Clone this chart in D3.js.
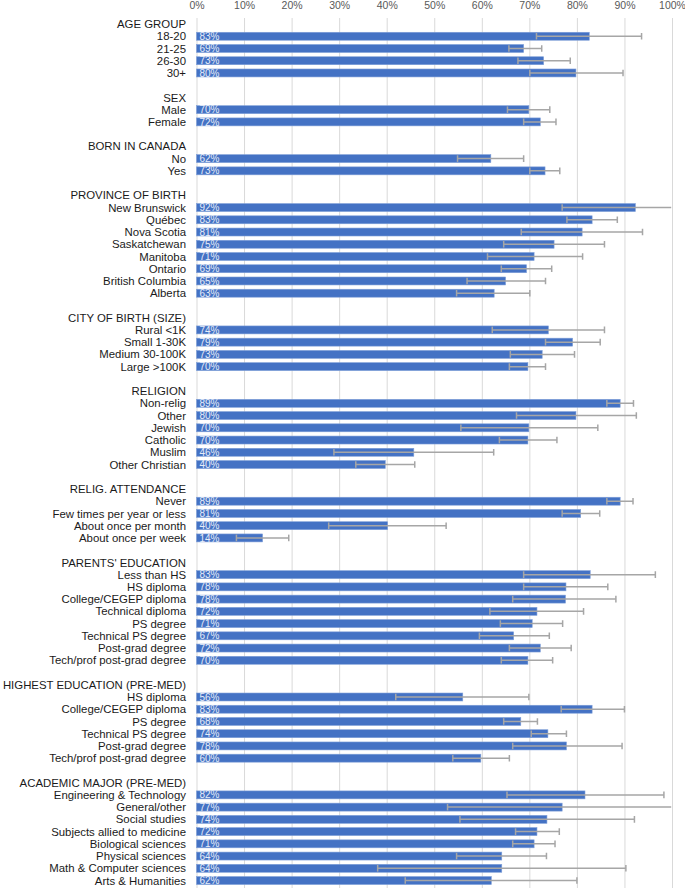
<!DOCTYPE html>
<html>
<head>
<meta charset="utf-8">
<script src="https://cdn.jsdelivr.net/npm/d3@7"></script>
<style>
  body { margin: 0; background: #fff; }
  svg { display: block; font-family: "Liberation Sans", Arial, sans-serif; }
</style>
</head>
<body>
<div id="chart"></div>
<script>
// Group headers, in display order
const groupNames = [
  "AGE GROUP", "SEX", "BORN IN CANADA", "PROVINCE OF BIRTH", "CITY OF BIRTH (SIZE)",
  "RELIGION", "RELIG. ATTENDANCE", "PARENTS' EDUCATION",
  "HIGHEST EDUCATION (PRE-MED)", "ACADEMIC MAJOR (PRE-MED)"
];

// Categories within each group
const categories = [
  ["18-20", "21-25", "26-30", "30+"],
  ["Male", "Female"],
  ["No", "Yes"],
  ["New Brunswick", "Québec", "Nova Scotia", "Saskatchewan", "Manitoba", "Ontario", "British Columbia", "Alberta"],
  ["Rural <1K", "Small 1-30K", "Medium 30-100K", "Large >100K"],
  ["Non-relig", "Other", "Jewish", "Catholic", "Muslim", "Other Christian"],
  ["Never", "Few times per year or less", "About once per month", "About once per week"],
  ["Less than HS", "HS diploma", "College/CEGEP diploma", "Technical diploma", "PS degree", "Technical PS degree", "Post-grad degree", "Tech/prof post-grad degree"],
  ["HS diploma", "College/CEGEP diploma", "PS degree", "Technical PS degree", "Post-grad degree", "Tech/prof post-grad degree"],
  ["Engineering & Technology", "General/other", "Social studies", "Subjects allied to medicine", "Biological sciences", "Physical sciences", "Math & Computer sciences", "Arts & Humanities"]
];

// Percentages (bar length)
const values = [
  [82.6, 68.8, 73.0, 79.8],
  [69.9, 72.3],
  [61.9, 73.3],
  [92.3, 83.2, 81.1, 75.2, 71.0, 69.4, 65.0, 62.6],
  [74.0, 79.1, 72.7, 69.7],
  [89.1, 79.8, 69.9, 69.7, 45.7, 39.7],
  [89.1, 80.8, 40.2, 13.9],
  [82.8, 77.7, 77.6, 71.6, 70.6, 66.7, 72.3, 69.7],
  [56.0, 83.2, 68.2, 73.9, 77.8, 59.8],
  [81.7, 76.9, 73.7, 71.6, 71.0, 64.2, 64.2, 62.0]
];

// Error bar ends (lower / upper)
const lower = [
  [71.5, 65.7, 67.6, 70.1],
  [65.4, 68.8],
  [54.9, 70.1],
  [76.9, 77.9, 68.3, 64.6, 61.2, 64.1, 56.9, 54.7],
  [62.2, 73.4, 66.0, 65.8],
  [86.3, 67.3, 55.6, 63.7, 28.9, 33.5],
  [86.3, 76.9, 27.8, 8.4],
  [68.8, 68.8, 66.5, 61.7, 63.9, 59.5, 65.8, 64.1],
  [41.9, 76.7, 64.6, 70.4, 66.5, 53.9],
  [65.3, 52.8, 55.4, 67.1, 66.5, 54.7, 38.1, 43.9]
];
const upper = [
  [93.6, 72.6, 78.6, 89.7],
  [74.3, 75.6],
  [68.8, 76.4],
  [101, 88.5, 93.8, 85.8, 81.2, 74.7, 73.4, 70.1],
  [85.8, 84.9, 79.5, 73.4],
  [91.9, 92.5, 84.4, 75.8, 62.5, 45.9],
  [91.8, 84.8, 52.5, 19.4],
  [96.5, 86.5, 88.2, 81.4, 77.0, 74.2, 78.8, 74.9],
  [69.9, 90.0, 71.7, 77.8, 89.5, 65.8],
  [98.3, 101, 92.1, 76.3, 75.4, 73.6, 90.3, 80.0]
];

const ticks = [0, 10, 20, 30, 40, 50, 60, 70, 80, 90, 100];

const width = 685, height = 888;

/** Flatten groups into rows: blank, header, items */
const rows = [];
groupNames.forEach((g, gi) => {
  if (gi > 0) rows.push({ type: "blank" });
  rows.push({ type: "header", label: g });
  categories[gi].forEach((c, ci) => {
    rows.push({
      type: "item", label: c,
      value: values[gi][ci], lo: lower[gi][ci], hi: upper[gi][ci]
    });
  });
});

const x = d3.scaleLinear().domain([0, 100]).range([196.5, 672]);

const y = d3.scaleBand()
  .domain(d3.range(rows.length))
  .range([17.9, 17.9 + rows.length * 12.236])
  .paddingInner(0.35)
  .paddingOuter(0.175);

const cy = (i) => y(i) + y.bandwidth() / 2;

const svg = d3.select("#chart")
  .append("svg")
  .attr("width", width)
  .attr("height", height);

/** Gridlines */
svg.append("g")
  .attr("class", "grid")
  .attr("transform", "translate(0,18)")
  .call(d3.axisBottom(x).tickValues(ticks).tickSize(height - 18).tickFormat(""))
  .call(g => g.select(".domain").remove())
  .call(g => g.selectAll("line").attr("stroke", "#d9d9d9"));

/** Top axis labels */
svg.append("g")
  .attr("transform", "translate(0,9)")
  .call(d3.axisTop(x).tickValues(ticks).tickSize(0).tickPadding(0).tickFormat(d => d + "%"))
  .call(g => g.select(".domain").remove())
  .call(g => g.selectAll("text")
    .attr("fill", "#595959")
    .style("font-size", "10.5px")
    .style("font-family", "'Liberation Sans', Arial, sans-serif"));

const items = rows.map((r, i) => Object.assign({ i: i }, r)).filter(r => r.type === "item");

/** Bars */
svg.append("g")
  .selectAll("rect")
  .data(items)
  .join("rect")
  .attr("x", x(0))
  .attr("y", d => y(d.i))
  .attr("width", d => x(d.value) - x(0))
  .attr("height", y.bandwidth())
  .attr("fill", "#4472c4")
  .attr("stroke", "#7f9fd8")
  .attr("stroke-width", 0.6);

/** Error bars, clipped at 100% */
svg.append("clipPath")
  .attr("id", "plot-clip")
  .append("rect")
  .attr("x", 0)
  .attr("y", 0)
  .attr("width", x(100) - 0.8)
  .attr("height", height);

const err = svg.append("g")
  .attr("clip-path", "url(#plot-clip)")
  .attr("stroke", "#a6a6a6")
  .attr("stroke-width", 1.5);

err.selectAll("line.whisker")
  .data(items)
  .join("line")
  .attr("class", "whisker")
  .attr("x1", d => x(d.lo))
  .attr("x2", d => x(d.hi))
  .attr("y1", d => cy(d.i))
  .attr("y2", d => cy(d.i));

err.selectAll("line.cap")
  .data(items.flatMap(d => [{ i: d.i, v: d.lo }, { i: d.i, v: d.hi }]))
  .join("line")
  .attr("class", "cap")
  .attr("x1", d => x(d.v))
  .attr("x2", d => x(d.v))
  .attr("y1", d => cy(d.i) - 3.3)
  .attr("y2", d => cy(d.i) + 3.3);

/** Value labels inside bars */
svg.append("g")
  .selectAll("text")
  .data(items)
  .join("text")
  .attr("x", x(0) + 3)
  .attr("y", d => cy(d.i))
  .attr("dy", "0.36em")
  .attr("fill", "#e6ecf8")
  .style("font-size", "10px")
  .text(d => Math.round(d.value) + "%");

/** Row labels (headers and categories) */
svg.append("g")
  .selectAll("text")
  .data(rows.map((r, i) => Object.assign({ i: i }, r)).filter(r => r.type !== "blank"))
  .join("text")
  .attr("x", 186)
  .attr("y", d => cy(d.i))
  .attr("dy", "0.36em")
  .attr("text-anchor", "end")
  .attr("fill", "#1a1a1a")
  .style("font-size", "11.4px")
  .text(d => d.label);
</script>
</body>
</html>
